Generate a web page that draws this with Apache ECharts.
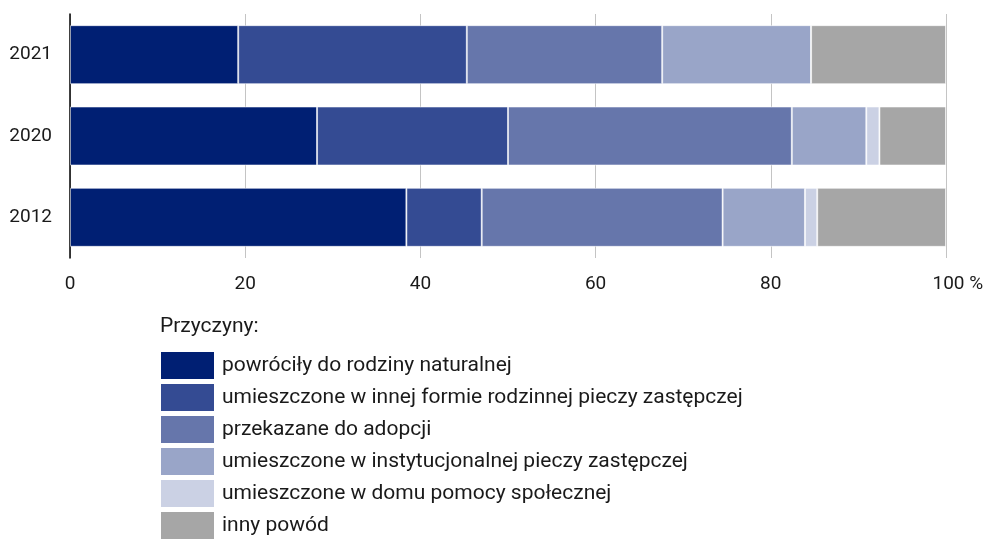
<!DOCTYPE html>
<html><head><meta charset="utf-8">
<script src="https://cdn.jsdelivr.net/npm/echarts@6/dist/echarts.min.js"></script>
<style>html,body{margin:0;padding:0;background:#fff}#c{width:990px;height:539px}</style>
</head><body><div id="c"></div>
<script>
const years = ['2012', '2020', '2021'];
const seriesNames = [
  'powróciły do rodziny naturalnej',
  'umieszczone w innej formie rodzinnej pieczy zastępczej',
  'przekazane do adopcji',
  'umieszczone w instytucjonalnej pieczy zastępczej',
  'umieszczone w domu pomocy społecznej',
  'inny powód'
];
const naturalna = [38.4, 28.2, 19.2];
const innaRodzinna = [8.6, 21.8, 26.1];
const adopcja = [27.5, 32.4, 22.3];
const instytucjonalna = [9.4, 8.5, 17.0];
const dps = [1.4, 1.5, 0];
const inny = [14.7, 7.6, 15.4];
const xTicks = [0, 20, 40, 60, 80, 100];
const legendTitle = 'Przyczyny:';

const values = [naturalna, innaRodzinna, adopcja, instytucjonalna, dps, inny];
const colors = ['#001f73', '#344b93', '#6676ab', '#99a5c8', '#cbd1e4', '#a6a6a6'];
const FONT = 'Roboto, sans-serif';
const FS = 19;
const LFS = 21;

const chart = echarts.init(document.getElementById('c'));
chart.setOption({
  animation: false,
  textStyle: { fontFamily: FONT },
  title: {
    text: legendTitle, left: 160, top: 316, padding: 0,
    textStyle: { fontSize: LFS, fontWeight: 'normal', color: '#1a1a1a', fontFamily: FONT }
  },
  legend: {
    orient: 'vertical', left: 161, top: 352, height: 200, padding: 0,
    itemWidth: 53, itemHeight: 27, itemGap: 5,
    icon: 'rect',
    selectedMode: false,
    itemStyle: { borderWidth: 0 },
    textStyle: { fontSize: LFS, lineHeight: 27, color: '#1a1a1a', padding: [0, 0, 0, 3], fontFamily: FONT },
    data: seriesNames
  },
  grid: { left: 70, top: 14, width: 876, height: 244, containLabel: false },
  xAxis: {
    type: 'value', min: 0, max: 100, interval: 20,
    axisLine: { show: false }, axisTick: { show: false },
    splitLine: { show: true, lineStyle: { color: '#c4c4c4', width: 1 } },
    axisLabel: {
      margin: 17, fontSize: FS, color: '#1a1a1a', fontFamily: FONT,
      formatter: v => xTicks.indexOf(v) === xTicks.length - 1 ? '     ' + v + ' %' : String(v)
    }
  },
  yAxis: {
    type: 'category', data: years,
    axisLine: { show: true, lineStyle: { color: '#000', width: 1.5 } },
    axisTick: { show: false },
    axisLabel: { margin: 18, fontSize: FS, color: '#1a1a1a', fontFamily: FONT }
  },
  series: seriesNames.map((n, i) => ({
    name: n, type: 'bar', stack: 'a', barWidth: 59,
    data: values[i],
    itemStyle: { color: colors[i], borderColor: 'rgba(255,255,255,0.55)', borderWidth: 1 }
  }))
});
</script></body></html>
